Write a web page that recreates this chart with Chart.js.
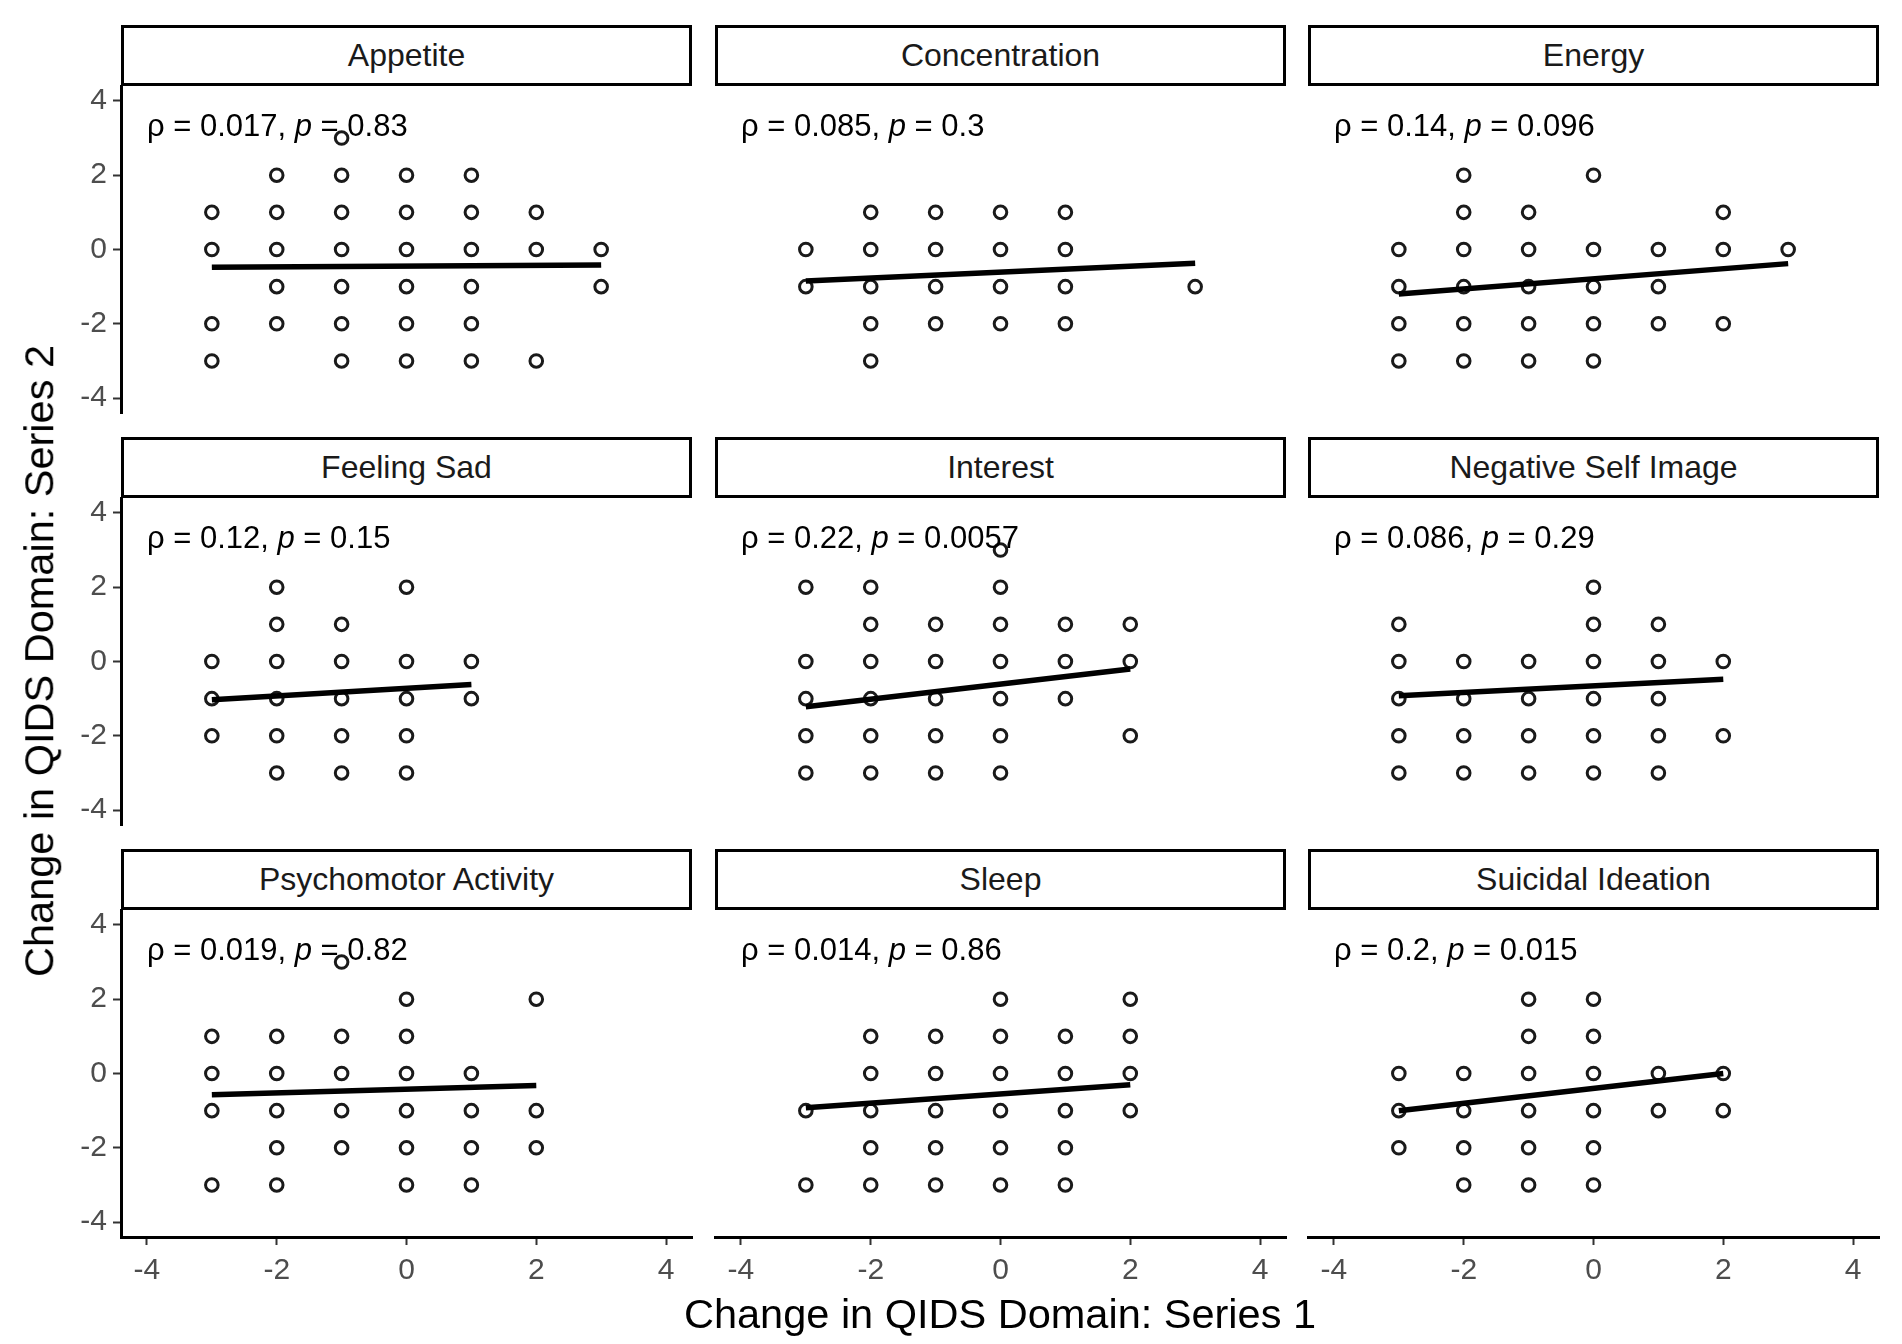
<!DOCTYPE html>
<html>
<head>
<meta charset="utf-8">
<script src="https://cdn.jsdelivr.net/npm/chart.js@4/dist/chart.umd.min.js"></script>
<style>
html,body{margin:0;padding:0;background:#fff;}
#wrap{position:relative;width:1902px;height:1344px;overflow:hidden;background:#fff;font-family:"Liberation Sans",Arial,Helvetica,sans-serif;}
#wrap canvas{position:absolute;}
.strip{position:absolute;box-sizing:border-box;border:3px solid #000;background:#fff;display:flex;align-items:center;justify-content:center;font-size:32px;color:#1a1a1a;}
.ann{position:absolute;font-size:31px;color:#000;white-space:pre;transform:translateY(-50%);line-height:1;}
.ann i{font-style:italic;}
.title{position:absolute;font-size:41.5px;color:#000;white-space:nowrap;line-height:1;}
</style>
</head>
<body>
<div id="wrap"></div>
<script>
// ---------------- DATA ----------------
const domains = ["Appetite","Concentration","Energy","Feeling Sad","Interest","Negative Self Image","Psychomotor Activity","Sleep","Suicidal Ideation"];
const rhoLabels = ["0.017","0.085","0.14","0.12","0.22","0.086","0.019","0.014","0.2"];
const pLabels   = ["0.83","0.3","0.096","0.15","0.0057","0.29","0.82","0.86","0.015"];
const tickValues = [-4,-2,0,2,4];
const tickLabels = ["-4","-2","0","2","4"];
const xTitle = "Change in QIDS Domain: Series 1";
const yTitle = "Change in QIDS Domain: Series 2";

// observed points [series1 change, series2 change]
const appetitePoints = [[-1,3],[-2,2],[-1,2],[0,2],[1,2],[-3,1],[-2,1],[-1,1],[0,1],[1,1],[2,1],
  [-3,0],[-2,0],[-1,0],[0,0],[1,0],[2,0],[3,0],[-2,-1],[-1,-1],[0,-1],[1,-1],[3,-1],
  [-3,-2],[-2,-2],[-1,-2],[0,-2],[1,-2],[-3,-3],[-1,-3],[0,-3],[1,-3],[2,-3]];
const concentrationPoints = [[-2,1],[-1,1],[0,1],[1,1],[-3,0],[-2,0],[-1,0],[0,0],[1,0],
  [-3,-1],[-2,-1],[-1,-1],[0,-1],[1,-1],[3,-1],[-2,-2],[-1,-2],[0,-2],[1,-2],[-2,-3]];
const energyPoints = [[-2,2],[0,2],[-2,1],[-1,1],[2,1],[-3,0],[-2,0],[-1,0],[0,0],[1,0],[2,0],[3,0],
  [-3,-1],[-2,-1],[-1,-1],[0,-1],[1,-1],[-3,-2],[-2,-2],[-1,-2],[0,-2],[1,-2],[2,-2],
  [-3,-3],[-2,-3],[-1,-3],[0,-3]];
const feelingSadPoints = [[-2,2],[0,2],[-2,1],[-1,1],[-3,0],[-2,0],[-1,0],[0,0],[1,0],
  [-3,-1],[-2,-1],[-1,-1],[0,-1],[1,-1],[-3,-2],[-2,-2],[-1,-2],[0,-2],[-2,-3],[-1,-3],[0,-3]];
const interestPoints = [[0,3],[-3,2],[-2,2],[0,2],[-2,1],[-1,1],[0,1],[1,1],[2,1],
  [-3,0],[-2,0],[-1,0],[0,0],[1,0],[2,0],[-3,-1],[-2,-1],[-1,-1],[0,-1],[1,-1],
  [-3,-2],[-2,-2],[-1,-2],[0,-2],[2,-2],[-3,-3],[-2,-3],[-1,-3],[0,-3]];
const selfImagePoints = [[0,2],[-3,1],[0,1],[1,1],[-3,0],[-2,0],[-1,0],[0,0],[1,0],[2,0],
  [-3,-1],[-2,-1],[-1,-1],[0,-1],[1,-1],[-3,-2],[-2,-2],[-1,-2],[0,-2],[1,-2],[2,-2],
  [-3,-3],[-2,-3],[-1,-3],[0,-3],[1,-3]];
const psychomotorPoints = [[-1,3],[0,2],[2,2],[-3,1],[-2,1],[-1,1],[0,1],[-3,0],[-2,0],[-1,0],[0,0],[1,0],
  [-3,-1],[-2,-1],[-1,-1],[0,-1],[1,-1],[2,-1],[-2,-2],[-1,-2],[0,-2],[1,-2],[2,-2],
  [-3,-3],[-2,-3],[0,-3],[1,-3]];
const sleepPoints = [[0,2],[2,2],[-2,1],[-1,1],[0,1],[1,1],[2,1],[-2,0],[-1,0],[0,0],[1,0],[2,0],
  [-3,-1],[-2,-1],[-1,-1],[0,-1],[1,-1],[2,-1],[-2,-2],[-1,-2],[0,-2],[1,-2],
  [-3,-3],[-2,-3],[-1,-3],[0,-3],[1,-3]];
const suicidalPoints = [[-1,2],[0,2],[-1,1],[0,1],[-3,0],[-2,0],[-1,0],[0,0],[1,0],[2,0],
  [-3,-1],[-2,-1],[-1,-1],[0,-1],[1,-1],[2,-1],[-3,-2],[-2,-2],[-1,-2],[0,-2],[-2,-3],[-1,-3],[0,-3]];

// fitted regression line end points
const appetiteFit      = [[-3,-0.48],[3,-0.42]];
const concentrationFit = [[-3,-0.85],[3,-0.37]];
const energyFit        = [[-3,-1.20],[3,-0.38]];
const feelingSadFit    = [[-3,-1.03],[1,-0.62]];
const interestFit      = [[-3,-1.22],[2,-0.20]];
const selfImageFit     = [[-3,-0.92],[2,-0.48]];
const psychomotorFit   = [[-3,-0.57],[2,-0.32]];
const sleepFit         = [[-3,-0.92],[2,-0.30]];
const suicidalFit      = [[-3,-1.00],[2,0.00]];

const pointSets = [appetitePoints,concentrationPoints,energyPoints,feelingSadPoints,interestPoints,selfImagePoints,psychomotorPoints,sleepPoints,suicidalPoints];
const fitSets = [appetiteFit,concentrationFit,energyFit,feelingSadFit,interestFit,selfImageFit,psychomotorFit,sleepFit,suicidalFit];

// ---------------- LAYOUT ----------------
const FONT = '"Liberation Sans", Arial, Helvetica, sans-serif';
const PW = 571, PH = 327;
const colLeft = [121, 715, 1308];
const rowTop = [86, 498, 910];
const STRIP_H = 61;
const L0 = 90, B0 = 70, PAD = 24;
const wrap = document.getElementById('wrap');

pointSets.forEach((pts, i) => {
  const c = i % 3, r = Math.floor(i / 3);
  const showY = c === 0, showX = r === 2;
  const L = showY ? L0 : PAD, B = showX ? B0 : PAD;

  // strip
  const st = document.createElement('div');
  st.className = 'strip';
  st.style.left = colLeft[c] + 'px';
  st.style.top = (rowTop[r] - STRIP_H) + 'px';
  st.style.width = PW + 'px';
  st.style.height = STRIP_H + 'px';
  st.textContent = domains[i];
  wrap.appendChild(st);

  const cv = document.createElement('canvas');
  const w = PW + L + PAD, h = PH + PAD + B;
  cv.width = w; cv.height = h;
  cv.style.width = w + 'px'; cv.style.height = h + 'px';
  cv.style.left = (colLeft[c] - L) + 'px';
  cv.style.top = (rowTop[r] - PAD) + 'px';
  wrap.appendChild(cv);

  const axisCommon = (show, isX) => ({
    type: 'linear', min: -4.4, max: 4.4, display: show,
    afterBuildTicks: s => { s.ticks = tickValues.map(v => ({ value: v })); },
    afterFit: s => {
      if (isX) s.height = show ? B : 0; else s.width = show ? L : 0;
    },
    grid: { display: true, drawOnChartArea: false, drawTicks: true, tickLength: 8, tickWidth: 2, tickColor: '#333' },
    border: { display: true, color: '#000', width: 3 },
    ticks: {
      color: '#4d4d4d', font: { size: 30, family: FONT }, padding: isX ? 8 : 6,
      maxRotation: 0, autoSkip: false,
      callback: (v) => { const k = tickValues.indexOf(v); return k >= 0 ? tickLabels[k] : ''; }
    }
  });

  const chart = new Chart(cv, {
    type: 'scatter',
    data: {
      datasets: [
        { type: 'line', data: fitSets[i].map(([x, y]) => ({ x, y })), borderColor: '#000', borderWidth: 5.5,
          pointRadius: 0, fill: false, order: 0, borderCapStyle: 'butt' },
        { data: pts.map(([x, y]) => ({ x, y })), pointStyle: 'circle', pointRadius: 6.3, pointBorderWidth: 3,
          borderColor: '#1a1a1a', backgroundColor: 'rgba(0,0,0,0)', pointBorderColor: '#1a1a1a',
          pointBackgroundColor: 'rgba(0,0,0,0)', showLine: false, order: 1 }
      ]
    },
    options: {
      responsive: false, animation: false, events: [],
      layout: { padding: { left: showY ? 0 : PAD, right: PAD, top: PAD, bottom: showX ? 0 : PAD } },
      plugins: { legend: { display: false }, tooltip: { enabled: false } },
      scales: { x: axisCommon(showX, true), y: axisCommon(showY, false) }
    }
  });

  // align chart area with target panel rectangle
  const ca = chart.chartArea;
  const offL = colLeft[c] - ca.left, offT = rowTop[r] - ca.top;
  cv.style.left = offL + 'px';
  cv.style.top = offT + 'px';

  // correlation annotation anchored at data coords
  const ann = document.createElement('div');
  ann.className = 'ann';
  ann.innerHTML = 'ρ = ' + rhoLabels[i] + ', <i>p</i> = ' + pLabels[i];
  ann.style.left = (offL + chart.scales.x.getPixelForValue(-4)) + 'px';
  ann.style.top = (offT + chart.scales.y.getPixelForValue(3.35)) + 'px';
  wrap.appendChild(ann);
});

// axis titles
const xt = document.createElement('div');
xt.className = 'title';
xt.textContent = xTitle;
xt.style.left = '1000px'; xt.style.top = '1314px';
xt.style.transform = 'translate(-50%,-50%)';
wrap.appendChild(xt);

const yt = document.createElement('div');
yt.className = 'title';
yt.textContent = yTitle;
yt.style.left = '39px'; yt.style.top = '661px';
yt.style.transform = 'translate(-50%,-50%) rotate(-90deg)';
wrap.appendChild(yt);
</script>
</body>
</html>
